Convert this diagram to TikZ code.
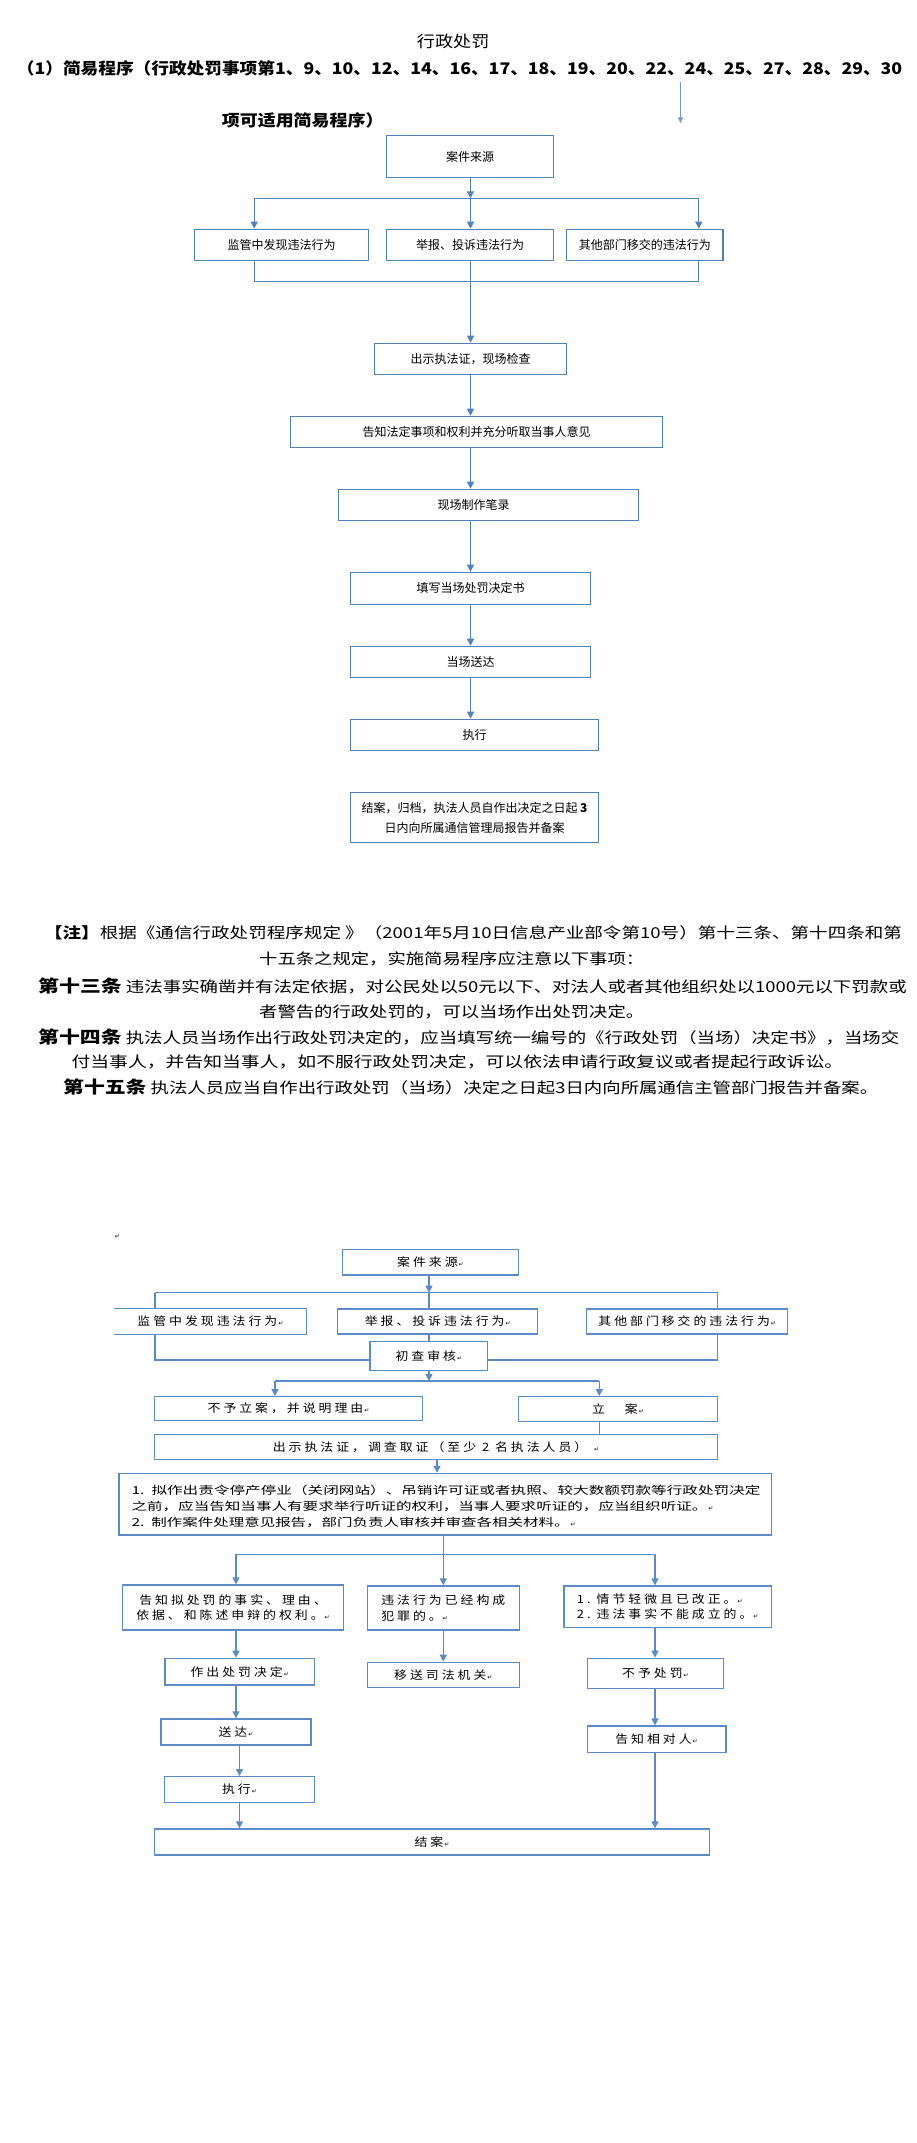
\documentclass[tikz,border=0pt]{standalone}
\usepackage{fontspec}
\usepackage{graphicx}
\usetikzlibrary{arrows.meta}
\newfontfamily\cjk{Noto Sans CJK SC}
\newfontfamily\cjks{Noto Sans CJK SC}[FakeStretch=1.12,LetterSpace=26]
\newfontfamily\symf{DejaVu Sans}
\definecolor{boxblue}{RGB}{79,129,189}
\definecolor{lineblue}{RGB}{91,138,200}
\definecolor{strayblue}{RGB}{120,152,205}
\newcommand{\fitto}[2]{\resizebox{#1pt}{\height}{#2}}
\newcommand{\retmark}{{\symf\fontsize{6}{6}\selectfont\,↵}}
\tikzset{
  wh/.style 2 args={minimum width=#1pt, minimum height=#2pt},
  tbox/.style={draw=boxblue, line width=1.2pt, inner sep=0pt, font=\cjk\fontsize{12}{14}\selectfont},
  bbox/.style={draw=lineblue, line width=1.4pt, inner sep=0pt, font=\cjks\fontsize{11.5}{15.7}\selectfont},
  tline/.style={draw=boxblue, line width=1.2pt},
  tarr/.style={draw=boxblue, line width=1.2pt, -{Triangle[length=7pt,width=7pt]}},
  bline/.style={draw=lineblue, line width=1.4pt},
  barr/.style={draw=lineblue, line width=1.4pt, -{Triangle[length=7pt,width=7pt]}},
  txt/.style={inner sep=0pt, anchor=west},
}
\begin{document}
\begin{tikzpicture}[x=1pt, y=-1pt]
\path[use as bounding box, fill=white] (0,0) rectangle (917,2143);

% ---------- heading ----------
\node[txt, font=\cjk\fontsize{16}{16}\selectfont] (title) at (416.7,41.7) {\fitto{72.6}{行政处罚}};
\node[txt, font=\cjk\bfseries\fontsize{16}{16}\selectfont] (sub1) at (16.7,68.3)
  {\fitto{885.3}{（1）简易程序（行政处罚事项第1、9、10、12、14、16、17、18、19、20、22、24、25、27、28、29、30}};
\node[txt, font=\cjk\bfseries\fontsize{16}{16}\selectfont] (sub2) at (221.7,120) {\fitto{161.6}{项可适用简易程序）}};
\coordinate (s1) at (680.5,81.7);
\coordinate (s2) at (680.5,123.3);
\draw[draw=strayblue, line width=0.9pt, -{Triangle[length=6pt,width=5pt]}] (s1) -- (s2);

% ---------- flowchart 1 ----------
\node[tbox, wh={167}{41.6}] (t1) at (470.2,156.5) {案件来源};
\node[tbox, wh={174.3}{31}] (t2a) at (281.55,244.8) {监管中发现违法行为};
\node[tbox, wh={167}{31}] (t2b) at (470.2,244.8) {举报、投诉违法行为};
\node[tbox, wh={156.3}{31}] (t2c) at (644.85,244.8) {其他部门移交的违法行为};
\node[tbox, wh={192.3}{31}] (t3) at (470.55,358.8) {出示执法证，现场检查};
\node[tbox, wh={372.4}{31.4}] (t4) at (476.5,432) {告知法定事项和权利并充分听取当事人意见};
\node[tbox, wh={300.4}{31}] (t5) at (488.5,504.8) {\hspace*{-30pt}现场制作笔录};
\node[tbox, wh={240.4}{32}] (t6) at (470.5,588.3) {填写当场处罚决定书};
\node[tbox, wh={240.4}{31}] (t7) at (470.5,661.8) {当场送达};
\node[tbox, wh={248.4}{31}] (t8) at (474.5,734.8) {执行};
\node[tbox, wh={248.4}{50.4}, align=center, font=\cjk\fontsize{12}{20}\selectfont] (t9) at (474.5,817.5)
  {结案，归档，执法人员自作出决定之日起 {\bfseries 3}\\日内向所属通信管理局报告并备案};

\coordinate (ax) at (470.5,198.3);
\coordinate (aL) at (254.2,198.3);
\coordinate (aR) at (698.8,198.3);
\coordinate (bx) at (470.5,281.3);
\coordinate (bL) at (254.2,281.3);
\coordinate (bR) at (698.8,281.3);
\draw[tarr] (t1.south -| ax) -- (ax);
\draw[tline] (aL) -- (aR);
\draw[tarr] (aL) -- (t2a.north -| aL);
\draw[tarr] (ax) -- (t2b.north -| ax);
\draw[tarr] (aR) -- (t2c.north -| aR);
\draw[tline] (t2a.south -| bL) -- (bL) -- (bR) -- (t2c.south -| bR);
\draw[tarr] (t2b.south -| bx) -- (t3.north -| bx);
\draw[tarr] (t3.south -| bx) -- (t4.north -| bx);
\draw[tarr] (t4.south -| bx) -- (t5.north -| bx);
\draw[tarr] (t5.south -| bx) -- (t6.north -| bx);
\draw[tarr] (t6.south -| bx) -- (t7.north -| bx);
\draw[tarr] (t7.south -| bx) -- (t8.north -| bx);

% ---------- note ----------
\begin{scope}[every node/.style={txt, font=\cjk\fontsize{15}{15}\selectfont}]
\node (n1) at (43.9,933) {\fitto{857.9}{{\bfseries 【注】}根据《通信行政处罚程序规定 》（2001年5月10日信息产业部令第10号）第十三条、第十四条和第}};
\node (n2) at (259,959.3) {\fitto{385}{十五条之规定，实施简易程序应注意以下事项：}};
\node (n3) at (38,986) {\fitto{868.5}{{\bfseries\fontsize{17}{17}\selectfont 第十三条} 违法事实确凿并有法定依据，对公民处以50元以下、对法人或者其他组织处以1000元以下罚款或}};
\node (n4) at (259,1011.7) {\fitto{385}{者警告的行政处罚的，可以当场作出处罚决定。}};
\node (n5) at (38,1036.7) {\fitto{861}{{\bfseries\fontsize{17}{17}\selectfont 第十四条} 执法人员当场作出行政处罚决定的，应当填写统一编号的《行政处罚（当场）决定书》，当场交}};
\node (n6) at (71.4,1061.7) {\fitto{771.6}{付当事人，并告知当事人，如不服行政处罚决定，可以依法申请行政复议或者提起行政诉讼。}};
\node (n7) at (63,1087) {\fitto{815}{{\bfseries\fontsize{17}{17}\selectfont 第十五条} 执法人员应当自作出行政处罚（当场）决定之日起3日内向所属通信主管部门报告并备案。}};
\end{scope}

% ---------- flowchart 2 ----------
\node[inner sep=0pt] (pm0) at (117,1237) {\retmark};
\node[bbox, wh={176.4}{25.7}] (b1) at (430.5,1262.2) {案件来源\retmark};
\node[bbox, draw=none, wh={190.7}{25}] (b2a) at (210.35,1321.5) {监管中发现违法行为\retmark};
\draw[bline] (b2a.north west) -| (b2a.south east) -- (b2a.south west);
\node[bbox, wh={200}{25}] (b2b) at (437.7,1321.5) {举报、投诉违法行为\retmark};
\node[bbox, wh={201}{25}] (b2c) at (687.2,1321.5) {其他部门移交的违法行为\retmark};
\node[bbox, wh={117.7}{29}] (b3) at (428.85,1356.2) {初查审核\retmark};
\node[bbox, wh={268.4}{24}] (b4a) at (288.5,1408.7) {不予立案，并说明理由\retmark};
\node[bbox, wh={199.4}{25}] (b4b) at (618,1409.2) {立\hspace{20pt}案\retmark};
\node[bbox, wh={563.4}{25}] (b5) at (436,1446.8) {出示执法证，调查取证（至少 2 名执法人员） \retmark};
\node[bbox, wh={652.6}{61.5}] (b6) at (445.1,1504.25) {};
\begin{scope}[every node/.style={txt, font=\cjk\fontsize{11}{11}\selectfont}]
\node (b6l1) at (131.3,1490) {\fitto{629}{1.\ \ 拟作出责令停产停业（关闭网站）、吊销许可证或者执照、较大数额罚款等行政处罚决定}};
\node (b6l2) at (131.3,1506) {\fitto{576}{之前，应当告知当事人有要求举行听证的权利，当事人要求听证的，应当组织听证。}\retmark};
\node (b6l3) at (131.3,1522.7) {\fitto{438}{2.\ \ 制作案件处理意见报告，部门负责人审核并审查各相关材料。}\retmark};
\end{scope}
\node[bbox, wh={221.2}{45}, align=center] (b7a) at (233,1607.5) {告知拟处罚的事实、理由、\\依据、和陈述申辩的权利。\retmark};
\node[bbox, wh={152}{44}, align=left] (b7b) at (443.3,1608) {违法行为已经构成\\犯罪的。\retmark};
\node[bbox, wh={207.4}{41.3}, align=left] (b7c) at (667.7,1606.7) {1.\hspace{6pt}情节轻微且已改正。\retmark\\2.\hspace{6pt}违法事实不能成立的。\retmark};
\node[bbox, wh={149.8}{26.7}] (b8a) at (239.7,1671.7) {作出处罚决定\retmark};
\node[bbox, wh={152}{25}] (b8b) at (443.3,1674.8) {移送司法机关\retmark};
\node[bbox, wh={136.4}{30}] (b8c) at (655.4,1673.3) {不予处罚\retmark};
\node[bbox, wh={150.2}{26}] (b9a) at (235.9,1732) {送达\retmark};
\node[bbox, wh={138.6}{26.3}] (b9c) at (656.5,1739.2) {告知相对人\retmark};
\node[bbox, wh={150.2}{25.6}] (b10) at (239.5,1789.5) {执行\retmark};
\node[bbox, wh={554.8}{26}] (b11) at (431.9,1842) {结案\retmark};

\coordinate (c1) at (429,1292.7);
\coordinate (cL) at (155,1292.7);
\coordinate (cR) at (717.7,1292.7);
\coordinate (dL) at (155,1360);
\coordinate (dR) at (717.7,1360);
\coordinate (e1) at (429,1381);
\coordinate (eL) at (275,1381);
\coordinate (eR) at (599.3,1381);
\coordinate (f1) at (437,1466);
\coordinate (g1) at (443.3,1554.3);
\coordinate (gL) at (236,1554.3);
\coordinate (gR) at (655,1554.3);
\coordinate (hL) at (239.5,1760);

\draw[barr] (b1.south -| c1) -- (c1);
\draw[bline] (cL) -- (cR);
\draw[bline] (cL) -- (b2a.north -| cL);
\draw[bline] (c1) -- (b2b.north -| c1);
\draw[bline] (cR) -- (b2c.north -| cR);
\draw[bline] (b2a.south -| cL) -- (dL) -- (b3.west |- dL);
\draw[bline] (b2c.south -| cR) -- (dR) -- (b3.east |- dR);
\draw[bline] (b2b.south -| c1) -- (b3.north -| c1);
\draw[barr] (b3.south -| e1) -- (e1);
\draw[bline] (eL) -- (eR);
\draw[barr] (eL) -- (b4a.north -| eL);
\draw[barr] (eR) -- (b4b.north -| eR);
\draw[bline] (b4b.south -| eR) -- (b5.north -| eR);
\draw[barr] (b5.south -| f1) -- (b6.north -| f1);
\draw[bline] (b6.south -| g1) -- (g1);
\draw[bline] (gL) -- (gR);
\draw[barr] (gL) -- (b7a.north -| gL);
\draw[barr] (g1) -- (b7b.north -| g1);
\draw[barr] (gR) -- (b7c.north -| gR);
\draw[barr] (b7a.south -| gL) -- (b8a.north -| gL);
\draw[barr] (b7b.south -| g1) -- (b8b.north -| g1);
\draw[barr] (b7c.south -| gR) -- (b8c.north -| gR);
\draw[barr] (b8a.south -| gL) -- (b9a.north -| gL);
\draw[barr] (b9a.south -| hL) -- (b10.north -| hL);
\draw[barr] (b10.south -| hL) -- (b11.north -| hL);
\draw[barr] (b8c.south -| gR) -- (b9c.north -| gR);
\draw[barr] (b9c.south -| gR) -- (b11.north -| gR);
\end{tikzpicture}
\end{document}
